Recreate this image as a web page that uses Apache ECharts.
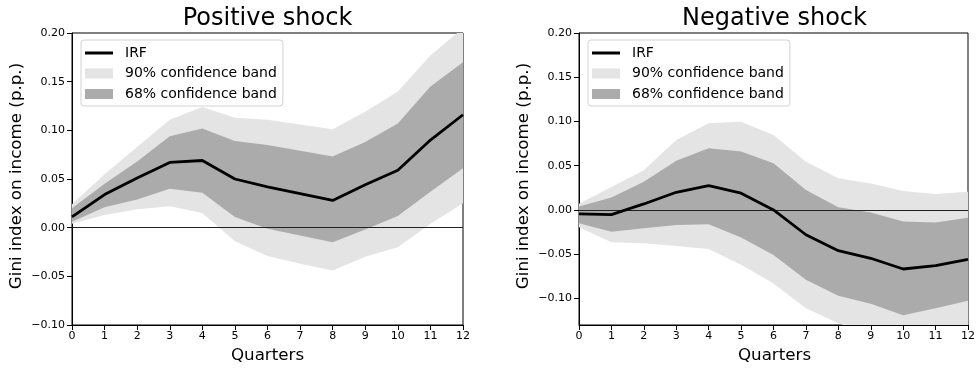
<!DOCTYPE html>
<html>
<head>
<meta charset="utf-8">
<script src="https://cdn.jsdelivr.net/npm/echarts@6/dist/echarts.min.js"></script>
<style>
html,body{margin:0;padding:0;background:#fff;}
#chart{width:978px;height:375px;}
</style>
</head>
<body>
<div id="chart"></div>
<script>
// ---- data ----
const quarters = [0,1,2,3,4,5,6,7,8,9,10,11,12];
const yTickValues = [-0.10,-0.05,0.00,0.05,0.10,0.15,0.20];

const posIRF  = [0.011, 0.034, 0.051, 0.067, 0.069, 0.050, 0.042, 0.035, 0.028, 0.044, 0.059, 0.090, 0.116];
const posUp68 = [0.020, 0.045, 0.068, 0.094, 0.102, 0.089, 0.085, 0.079, 0.073, 0.088, 0.107, 0.145, 0.170];
const posLo68 = [0.006, 0.021, 0.029, 0.040, 0.036, 0.011, -0.001, -0.008, -0.015, -0.002, 0.012, 0.037, 0.061];
const posUp90 = [0.024, 0.055, 0.083, 0.111, 0.124, 0.113, 0.111, 0.106, 0.101, 0.119, 0.140, 0.177, 0.205];
const posLo90 = [0.004, 0.013, 0.019, 0.022, 0.015, -0.014, -0.029, -0.037, -0.044, -0.030, -0.020, 0.004, 0.025];

const negIRF  = [-0.0045, -0.0053, 0.0068, 0.020, 0.0275, 0.019, 0.000, -0.028, -0.046, -0.0546, -0.0667, -0.063, -0.0557];
const negUp68 = [0.004, 0.014, 0.032, 0.0557, 0.0697, 0.066, 0.0527, 0.0226, 0.003, -0.003, -0.013, -0.0143, -0.0087];
const negLo68 = [-0.015, -0.0245, -0.0207, -0.017, -0.016, -0.031, -0.051, -0.079, -0.097, -0.106, -0.119, -0.111, -0.1025];
const negUp90 = [0.007, 0.026, 0.045, 0.079, 0.098, 0.0998, 0.0847, 0.0546, 0.0358, 0.030, 0.0215, 0.018, 0.0207];
const negLo90 = [-0.0196, -0.0365, -0.0377, -0.0407, -0.044, -0.062, -0.083, -0.111, -0.128, -0.142, -0.152, -0.143, -0.132];

const titles = ['Positive shock', 'Negative shock'];
const xName = 'Quarters';
const yName = 'Gini index on income (p.p.)';
const legendNames = ['IRF', '90% confidence band', '68% confidence band'];

// ---- style ----
const FONT = 'DejaVu Sans';
const LIGHT = '#e4e4e4';
const DARK = '#ababab';
const panels = [
  {left: 72, irf: posIRF, up68: posUp68, lo68: posLo68, up90: posUp90, lo90: posLo90, ymin: -0.10},
  {left: 579, irf: negIRF, up68: negUp68, lo68: negLo68, up90: negUp90, lo90: negLo90, ymin: -0.13}
];
const GW = 391, GT = 33, GH = 292;

function fmt(v){
  const s = Math.abs(v).toFixed(2);
  return (v < -1e-9 ? '\u2212' : '') + s;
}
const pairs = (ys) => quarters.map((q,i) => [q, ys[i]]);
const band = (lo, hi) => quarters.map((q,i) => [q, lo[i], hi[i]]);

function bandRender(params, api) {
  if (params.dataIndex !== 0) return;
  const n = params.dataInsideLength;
  const top = [], bot = [];
  for (let i = 0; i < n; i++) {
    const x = api.value(0, i);
    bot.push(api.coord([x, api.value(1, i)]));
    top.push(api.coord([x, api.value(2, i)]));
  }
  const pts = bot.concat(top.reverse());
  const cs = params.coordSys;
  return {
    type: 'polygon',
    shape: {points: pts},
    style: {fill: api.visual('color'), stroke: null},
    clipPath: {type: 'rect', shape: {x: cs.x, y: cs.y, width: cs.width, height: cs.height}}
  };
}

const grid = [], xAxis = [], yAxis = [], series = [], legend = [], graphic = [];
panels.forEach((p, k) => {
  grid.push({left: p.left, top: GT, width: GW, height: GH, show: true, borderColor: '#000', borderWidth: 1, backgroundColor: 'transparent'});
  xAxis.push({
    type: 'value', gridIndex: k, min: 0, max: 12, interval: 1,
    axisLine: {show: true, onZero: false, lineStyle: {color: '#000', width: 1}},
    axisTick: {show: true, inside: false, length: 5, lineStyle: {color: '#000', width: 1}},
    axisLabel: {color: '#000', fontSize: 11, fontFamily: FONT, margin: 6},
    splitLine: {show: false}
  });
  const ya = {
    type: 'value', gridIndex: k, min: p.ymin, max: 0.20, interval: 0.05,
    axisLine: {show: true, onZero: false, lineStyle: {color: '#000', width: 1}},
    axisTick: {show: true, inside: false, length: 5, lineStyle: {color: '#000', width: 1}},
    axisLabel: {color: '#000', fontSize: 11, fontFamily: FONT, margin: 7, formatter: fmt},
    splitLine: {show: false}
  };
  if (k === 1) {
    ya.axisLabel.customValues = yTickValues;
    ya.axisTick.customValues = yTickValues;
  }
  yAxis.push(ya);

  series.push({type: 'custom', name: legendNames[1], xAxisIndex: k, yAxisIndex: k, silent: true, animation: false,
    renderItem: bandRender, encode: {x: 0, y: [1, 2]}, itemStyle: {color: LIGHT}, data: band(p.lo90, p.up90), z: 1});
  series.push({type: 'custom', name: legendNames[2], xAxisIndex: k, yAxisIndex: k, silent: true, animation: false,
    renderItem: bandRender, encode: {x: 0, y: [1, 2]}, itemStyle: {color: DARK}, data: band(p.lo68, p.up68), z: 2});
  series.push({type: 'line', name: legendNames[0], xAxisIndex: k, yAxisIndex: k, symbol: 'none', showSymbol: false,
    silent: true, animation: false, data: pairs(p.irf), lineStyle: {color: '#000', width: 2.8}, itemStyle: {color: '#000'}, z: 5,
    markLine: {silent: true, symbol: ['none','none'], label: {show: false}, animation: false, z: 3,
      lineStyle: {color: '#222', width: 1, type: 'solid'}, emphasis: {disabled: true}, data: [{yAxis: 0}]}});

  legend.push({
    orient: 'vertical', left: p.left + 9, top: 40, itemWidth: 28, itemHeight: 10, itemGap: 6.5,
    padding: [6, 6, 5, 4], backgroundColor: 'rgba(255,255,255,0.85)', borderColor: '#d3d3d3', borderWidth: 1, borderRadius: 3,
    selectedMode: false,
    textStyle: {fontSize: 14, fontFamily: FONT, color: '#000', lineHeight: 14, padding: [0,0,0,7]},
    data: [
      {name: legendNames[0], icon: 'path://M0,0 L28,0 L28,3 L0,3 Z', itemStyle: {color: '#000', borderWidth: 0}},
      {name: legendNames[1], icon: 'rect', itemStyle: {color: LIGHT, borderWidth: 0}},
      {name: legendNames[2], icon: 'rect', itemStyle: {color: DARK, borderWidth: 0}}
    ]
  });

  const cx = p.left + GW / 2;
  graphic.push({type: 'text', x: cx, y: 18.3, silent: true,
    style: {text: titles[k], font: '24px "' + FONT + '"', fill: '#000', align: 'center', verticalAlign: 'middle'}});
  graphic.push({type: 'text', x: cx, y: 356, silent: true,
    style: {text: xName, font: '16.7px "' + FONT + '"', fill: '#000', align: 'center', verticalAlign: 'middle'}});
  graphic.push({type: 'text', x: p.left - 55.6, y: 176, rotation: Math.PI / 2, silent: true,
    style: {text: yName, font: '16.7px "' + FONT + '"', fill: '#000', align: 'center', verticalAlign: 'middle'}});
});

const chart = echarts.init(document.getElementById('chart'), null, {renderer: 'canvas'});
chart.setOption({
  animation: false,
  backgroundColor: '#fff',
  textStyle: {fontFamily: FONT},
  grid, xAxis, yAxis, series, legend, graphic
});
</script>
</body>
</html>
